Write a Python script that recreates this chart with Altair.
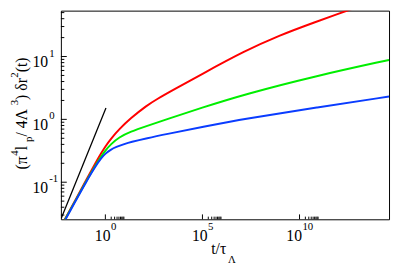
import altair as alt
import pandas as pd

# ---------------- data: log10(t/tau) and log10(MSD) ----------------
red_logt = [-2.3, -2.07, -1.5, -1.0, -0.5, -0.2, 0.0, 0.28, 0.7, 1.29, 2.13, 2.64, 3.5, 4.91, 7.18, 9.0, 10.55, 13.35, 14.61]
red_logv = [-1.71, -1.58, -1.26, -0.97, -0.69, -0.53, -0.43, -0.31, -0.16, 0.015, 0.22, 0.32, 0.47, 0.71, 1.09, 1.34, 1.52, 1.83, 1.96]

green_logt = [-2.3, -2.07, -1.5, -1.0, -0.5, -0.2, 0.0, 0.28, 0.7, 1.29, 2.13, 3.14, 4.91, 7.18, 10.88, 14.61]
green_logv = [-1.72, -1.59, -1.27, -0.99, -0.725, -0.585, -0.495, -0.395, -0.285, -0.195, -0.105, 0.0, 0.18, 0.40, 0.694, 0.946]

blue_logt = [-2.3, -2.07, -1.5, -1.0, -0.5, -0.2, 0.0, 0.28, 0.54, 1.0, 1.29, 2.13, 3.14, 5.0, 7.18, 10.88, 14.61]
blue_logv = [-1.73, -1.60, -1.28, -1.0, -0.74, -0.61, -0.545, -0.48, -0.44, -0.39, -0.362, -0.30, -0.235, -0.12, 0.01, 0.19, 0.363]

black_logt = [-2.27, 0.03]
black_logv = [-1.574, 0.182]

x_major = [1e0, 1e5, 1e10]
x_label_exp = ["0", "5", "10"]
y_major = [1e-1, 1e0, 1e1]
y_label_exp = ["-1", "0", "1"]

# ---------------- layout ----------------
W, H = 335, 213
FONT = "Liberation Serif"
xdom = [10 ** -2.29, 10 ** 14.61]
ydom = [10 ** -1.59, 10 ** 1.73]
xs = alt.Scale(type="log", domain=xdom, nice=False)
ys = alt.Scale(type="log", domain=ydom, nice=False)


def frame(lt, lv):
    return pd.DataFrame({"t": [10 ** a for a in lt], "v": [10 ** b for b in lv]})


layers = []
for lt, lv, col, sw in [(black_logt, black_logv, "#000000", 1.3),
                        (red_logt, red_logv, "#ff0000", 2),
                        (green_logt, green_logv, "#00ee00", 2),
                        (blue_logt, blue_logv, "#0a3cff", 2)]:
    layers.append(
        alt.Chart(frame(lt, lv)).mark_line(color=col, strokeWidth=sw, clip=True, interpolate="basis").encode(
            x=alt.X("t:Q", scale=xs, axis=None),
            y=alt.Y("v:Q", scale=ys, axis=None),
        )
    )

# ticks (pointing inward)
y_minor = [k * 10.0 ** e for e in (-2, -1, 0, 1) for k in range(2, 10)]
y_minor = [v for v in y_minor if ydom[0] < v < ydom[1]]
x_minor = [k * 10.0 ** e for e in (0, 5, 10) for k in range(2, 10)]

for vals, length in [(y_major, 6), (y_minor, 3.5)]:
    layers.append(alt.Chart(pd.DataFrame({"y": vals})).mark_rule(color="black", strokeWidth=1).encode(
        y=alt.Y("y:Q", scale=ys, axis=None), x=alt.value(0), x2=alt.value(length)))
for vals, length in [(x_major, 5), (x_minor, 2.7)]:
    layers.append(alt.Chart(pd.DataFrame({"x": vals})).mark_rule(color="black", strokeWidth=1).encode(
        x=alt.X("x:Q", scale=xs, axis=None), y=alt.value(H), y2=alt.value(H - length)))

# y tick labels: "10" + raised exponent
ylab = pd.DataFrame({"y": y_major, "base": ["10"] * 3, "exp": y_label_exp})
layers.append(alt.Chart(ylab).mark_text(font=FONT, fontSize=16, align="right", baseline="alphabetic", dy=11).encode(
    y=alt.Y("y:Q", scale=ys, axis=None), x=alt.value(-13), text="base:N"))
layers.append(alt.Chart(ylab).mark_text(font=FONT, fontSize=11, align="left", baseline="alphabetic", dy=0).encode(
    y=alt.Y("y:Q", scale=ys, axis=None), x=alt.value(-12), text="exp:N"))

# x tick labels (centred as a whole on the tick)
for val, ex in zip(x_major, x_label_exp):
    d = pd.DataFrame({"x": [val], "base": ["10"], "exp": [ex]})
    w10, wex = 16.0, 5.5 * len(ex)
    off = -(w10 + wex) / 2 + w10
    layers.append(alt.Chart(d).mark_text(font=FONT, fontSize=16, align="right", baseline="alphabetic", dx=off).encode(
        x=alt.X("x:Q", scale=xs, axis=None), y=alt.value(235), text="base:N"))
    layers.append(alt.Chart(d).mark_text(font=FONT, fontSize=11, align="left", baseline="alphabetic", dx=off + 0.5).encode(
        x=alt.X("x:Q", scale=xs, axis=None), y=alt.value(224), text="exp:N"))

# x title  t/τ_Λ
layers.append(alt.Chart(pd.DataFrame({"s": ["t/τ"]})).mark_text(font=FONT, fontSize=16, align="left", baseline="alphabetic").encode(
    x=alt.value(153.5), y=alt.value(248.5), text="s:N"))
layers.append(alt.Chart(pd.DataFrame({"s": ["Λ"]})).mark_text(font=FONT, fontSize=11, align="left", baseline="alphabetic").encode(
    x=alt.value(170.5), y=alt.value(258), text="s:N"))

# y title (π^4 l_p / 4Λ^3) δr^2(t), rotated, typeset piece by piece
MAIN, SMALL = 16, 11
em = {"(": 0.333, ")": 0.333, "π": 0.55, "4": 0.5, "3": 0.5, "2": 0.5, " ": 0.25, "l": 0.278,
      "p": 0.5, "/": 0.278, "Λ": 0.722, "δ": 0.5, "r": 0.333, "t": 0.278}
pieces = [("(π", "m"), ("4", "sup"), (" l", "m"), ("p", "sub"), (" / 4Λ", "m"), ("3", "sup"),
          (") δr", "m"), ("2", "sup"), ("(t)", "m")]
xbase = {"m": -35, "sup": -44, "sub": -30}
widths = [sum(em[c] for c in s) * (MAIN if k == "m" else SMALL) for s, k in pieces]
pos = 105 + sum(widths) / 2
for (s, k), w in zip(pieces, widths):
    layers.append(alt.Chart(pd.DataFrame({"s": [s]})).mark_text(
        font=FONT, fontSize=MAIN if k == "m" else SMALL, align="left", baseline="alphabetic", angle=270).encode(
        x=alt.value(xbase[k]), y=alt.value(pos), text="s:N"))
    pos -= w

chart = alt.layer(*layers).properties(
    width=W, height=H,
    autosize=alt.AutoSizeParams(type="none"),
    padding={"left": 54, "top": 0, "right": 2, "bottom": 46},
    background="white",
).configure_view(stroke="black", strokeWidth=1)

chart.save("out.html", embed_options={"renderer": "svg", "actions": False})
